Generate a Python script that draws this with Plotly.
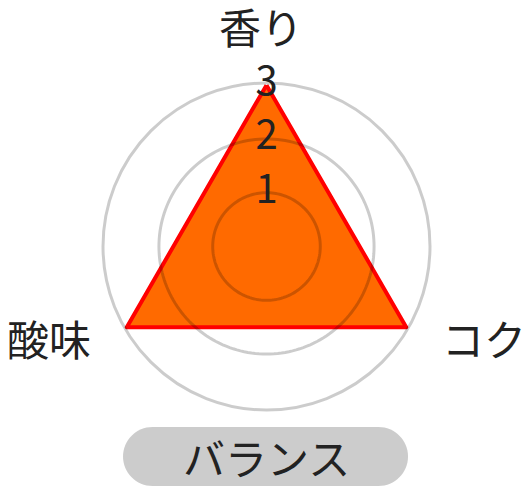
import numpy as np
import plotly.graph_objects as go

# chart data
axes_labels = ['香り', 'コク', '酸味']
scores = [3, 3, 3]
tick_values = [1, 2, 3]
tick_labels = ['1', '2', '3']
badge_text = 'バランス'

# page body has an 8px margin, so the figure is placed 8px in from the corner
OFF = 8
W, H = 532 - OFF, 487 - OFF
FONT = 'Noto Sans CJK JP'
TXT = '#222222'
GRID = 'rgba(0,0,0,0.2)'

# one spoke per category, evenly spread (degrees)
axis_theta = [i * 360 / len(axes_labels) for i in range(len(axes_labels))]


def px(x):
    return (x - OFF) / W


def py(y):
    return (H - (y - OFF)) / H


def pill_path(x0, y0, x1, y1):
    # pill shaped box from window pixels (top-left origin) to paper coords
    r = (y1 - y0) / 2
    k = 0.5523 * r
    pts = [
        'M', px(x0 + r), py(y0),
        'L', px(x1 - r), py(y0),
        'C', px(x1 - r + k), py(y0), px(x1), py(y0 + r - k), px(x1), py(y0 + r),
        'C', px(x1), py(y0 + r + k), px(x1 - r + k), py(y1), px(x1 - r), py(y1),
        'L', px(x0 + r), py(y1),
        'C', px(x0 + r - k), py(y1), px(x0), py(y0 + r + k), px(x0), py(y0 + r),
        'C', px(x0), py(y0 + r - k), px(x0 + r - k), py(y0), px(x0 + r), py(y0),
        'Z',
    ]
    return ' '.join(p if isinstance(p, str) else f'{p:.4f}' for p in pts)


fig = go.Figure()

# filled triangle
fig.add_trace(go.Scatterpolar(
    r=scores + scores[:1],
    theta=axis_theta + axis_theta[:1],
    mode='lines',
    fill='toself',
    fillcolor='#FF6A00',
    line=dict(color='#FF0000', width=4),
    hoverinfo='skip',
))

# inner rings drawn over the fill (translucent, like the grid in the original)
ring_theta = np.linspace(0, 360, 181)
for v in tick_values[:2]:
    fig.add_trace(go.Scatterpolar(
        r=[v] * len(ring_theta), theta=ring_theta,
        mode='lines', line=dict(color=GRID, width=3),
        hoverinfo='skip',
    ))

# scale numbers on the top axis
fig.add_trace(go.Scatterpolar(
    r=tick_values,
    theta=[axis_theta[0]] * len(tick_values),
    mode='text',
    text=tick_labels,
    textposition='middle center',
    textfont=dict(size=40, color=TXT, family=FONT),
    hoverinfo='skip',
))

cx, cy, R = 266.5, 246.5, 163.5

fig.update_layout(
    width=W, height=H,
    margin=dict(l=0, r=0, t=0, b=0),
    paper_bgcolor='white',
    showlegend=False,
    font=dict(family=FONT, color=TXT),
    polar=dict(
        domain=dict(x=[px(cx - R), px(cx + R)], y=[py(cy + R), py(cy - R)]),
        bgcolor='rgba(0,0,0,0)',
        radialaxis=dict(
            range=[0, 3.04],
            showticklabels=False,
            ticks='',
            showline=False,
            showgrid=False,
        ),
        angularaxis=dict(
            type='linear',
            direction='clockwise',
            rotation=90,
            showgrid=False,
            showline=True,
            linecolor=GRID,
            linewidth=3,
            ticks='',
            showticklabels=False,
        ),
    ),
    shapes=[dict(
        type='path', xref='paper', yref='paper',
        path=pill_path(123, 427, 408, 486),
        fillcolor='#CCCCCC', line=dict(width=0), layer='below',
    )],
)

# category labels around the chart and the badge caption
label_pos = {'香り': (261, 25), 'コク': (484, 337), '酸味': (49, 337)}
for name in axes_labels:
    x, y = label_pos[name]
    fig.add_annotation(
        text=name, xref='paper', yref='paper', x=px(x), y=py(y),
        xanchor='center', yanchor='middle', showarrow=False,
        font=dict(size=42, color=TXT, family=FONT),
    )
fig.add_annotation(
    text=badge_text, xref='paper', yref='paper', x=px(266), y=py(456),
    xanchor='center', yanchor='middle', showarrow=False,
    font=dict(size=42, color=TXT, family=FONT),
)

fig.write_html('out.html')
